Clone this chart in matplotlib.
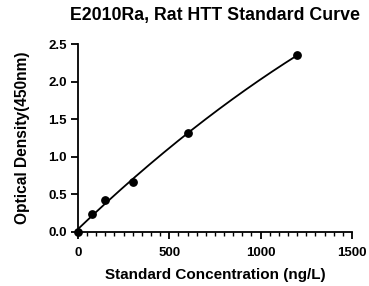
import numpy as np
import matplotlib.pyplot as plt
from matplotlib.ticker import MultipleLocator

plt.rcParams['font.family'] = ['Liberation Sans', 'DejaVu Sans']
plt.rcParams['font.weight'] = 'bold'

conc = [0, 75, 150, 300, 600, 1200]
od = [0.0, 0.24, 0.42, 0.66, 1.32, 2.35]

fig = plt.figure(figsize=(3.69, 2.86), dpi=100)
ax = fig.add_axes([0.211, 0.189, 0.743, 0.657])

# smooth fitted curve through the standards
coef = np.polyfit(conc, od, 2)
xs = np.linspace(0, max(conc), 200)
ax.plot(xs, np.polyval(coef, xs), color='black', linewidth=1.3)
ax.scatter(conc, od, color='black', s=28, zorder=5, clip_on=False)

ax.set_xlim(0, 1500)
ax.set_ylim(0, 2.5)
ax.xaxis.set_major_locator(MultipleLocator(500))
ax.xaxis.set_minor_locator(MultipleLocator(50))
ax.yaxis.set_major_locator(MultipleLocator(0.5))
ax.yaxis.set_major_formatter(plt.FormatStrFormatter('%.1f'))

for s in ['top', 'right']:
    ax.spines[s].set_visible(False)
for s in ['left', 'bottom']:
    ax.spines[s].set_linewidth(1.3)
ax.tick_params(which='major', length=5, width=1.3, labelsize=9.5, pad=3)
ax.tick_params(axis='x', which='major', pad=6)
ax.tick_params(which='minor', length=3, width=1.0)

ax.set_xlabel('Standard Concentration (ng/L)', fontsize=11, fontweight='bold', labelpad=6)
ax.set_ylabel('Optical Density(450nm)', fontsize=11.2, fontweight='bold', labelpad=13)
fig.suptitle('E2010Ra, Rat HTT Standard Curve', x=0.583, y=0.975, fontsize=12.8, fontweight='bold')

fig.savefig('out.png', dpi=100)
